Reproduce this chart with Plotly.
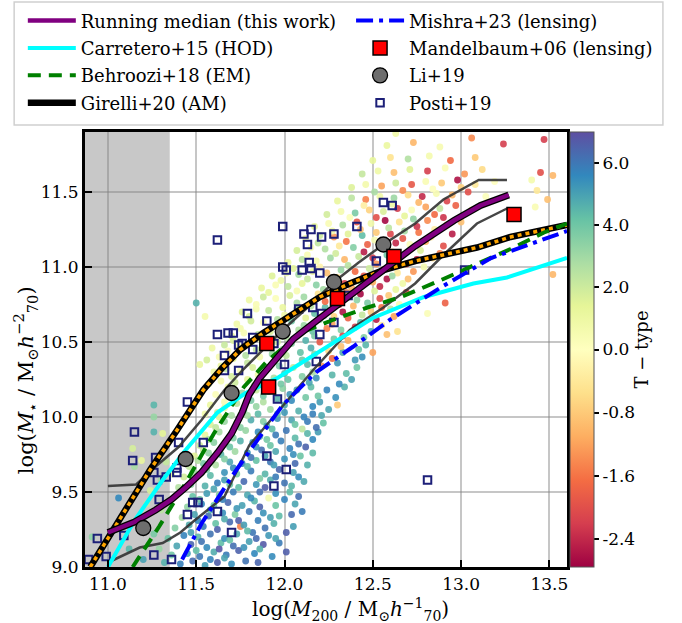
import plotly.graph_objects as go

FONT = "DejaVu Serif"

# ---------------- data ----------------
# galaxies: (log M200, log Mstar, T-type), grouped by stellar-mass range
gal_a = [(11.32,9.03,4.6),(11.41,9.02,5.8),(11.48,9.04,6.3),(11.55,9.01,5.1),(11.62,9.03,6.6),(11.70,9.02,5.4),(11.78,9.04,6.1),
         (11.36,9.08,3.9),(11.45,9.09,5.2),(11.52,9.07,6.0),(11.60,9.10,4.7),(11.67,9.08,5.9),(11.74,9.11,6.5),(11.83,9.09,5.6),
         (11.29,9.12,3.2),(11.39,9.14,4.9),(11.47,9.15,6.4),(11.56,9.13,5.5),(11.64,9.16,4.3),(11.71,9.14,6.2),(11.80,9.17,5.0),
         (11.88,9.15,6.7),(11.34,9.19,4.1),(11.43,9.21,5.7),(11.51,9.20,4.4),(11.58,9.22,6.1),(11.66,9.19,5.3),(11.75,9.27,-1.5),
         (11.73,9.22,4.8),(11.82,9.23,6.0),(11.91,9.21,5.2),(12.01,9.23,6.6),(11.38,9.26,3.6),(11.46,9.28,4.7),(11.54,9.27,5.9),
         (11.61,9.29,4.2),(11.69,9.30,6.3),(11.77,9.28,5.1),(11.85,9.31,5.8),(11.94,9.29,4.6),(11.42,9.33,2.8),(11.49,9.35,4.9),
         (11.57,9.34,6.2),(11.65,9.36,5.4),(11.72,9.35,3.7),(11.80,9.37,6.0),(11.88,9.36,5.3),(11.97,9.34,4.4),(11.45,9.40,3.3),
         (11.53,9.42,5.6),(11.60,9.41,4.0),(11.68,9.43,6.4),(11.76,9.41,5.0),(11.83,9.44,4.5),(11.91,9.46,0.6),(12.00,9.45,5.7),
         (12.06,9.42,4.9),(11.48,9.47,4.2),(11.56,9.49,5.1),(11.63,9.48,3.6),(11.71,9.50,5.9),(11.79,9.48,4.8),(11.86,9.50,6.2),
         (11.95,9.49,5.4),(12.03,9.50,4.3),(12.01,9.10,6.6),(12.10,9.37,5.9),
         (10.91,9.20,3.4),(11.06,9.46,5.6),(11.15,9.30,3.0),(11.22,9.42,2.2),(11.12,9.12,4.5),(11.20,9.05,5.0),(11.26,9.22,3.8),
         (11.30,9.38,2.5),(11.24,9.51,1.8)]
gal_b = [(11.40,9.53,2.6),(11.47,9.55,3.5),(11.55,9.54,4.6),(11.62,9.56,5.8),(11.69,9.55,4.1),(11.77,9.57,6.3),(11.84,9.55,5.2),
         (11.92,9.58,4.7),(12.00,9.56,6.1),(12.08,9.60,5.5),(11.43,9.60,1.9),(11.51,9.62,3.0),(11.58,9.61,4.4),(11.66,9.63,5.3),
         (11.73,9.62,3.8),(11.81,9.64,5.9),(11.89,9.62,4.5),(11.97,9.65,6.4),(12.05,9.63,5.0),(12.13,9.68,4.6),(11.46,9.67,2.3),
         (11.54,9.69,3.9),(11.61,9.68,2.7),(11.69,9.70,4.9),(11.76,9.69,5.6),(11.84,9.71,4.2),(11.92,9.70,6.0),(12.00,9.72,5.3),
         (12.09,9.74,4.1),(11.49,9.74,1.5),(11.57,9.76,3.3),(11.64,9.75,4.5),(11.72,9.77,3.0),(11.79,9.76,5.4),(11.87,9.78,6.2),
         (11.95,9.77,4.8),(12.03,9.79,5.7),(12.12,9.80,6.5),(11.52,9.81,2.0),(11.60,9.83,3.4),(11.67,9.82,2.4),(11.75,9.84,4.6),
         (11.82,9.83,5.1),(11.90,9.85,3.9),(11.98,9.84,5.8),(12.06,9.86,4.4),(12.16,9.85,5.6),(11.55,9.88,1.2),(11.63,9.90,2.9),
         (11.70,9.89,4.0),(11.78,9.91,3.2),(11.85,9.90,5.5),(11.93,9.92,4.3),(12.01,9.91,6.0),(12.10,9.92,2.4),(12.19,9.90,5.1),
         (11.58,9.95,1.7),(11.66,9.97,3.1),(11.73,9.96,2.2),(11.81,9.98,4.7),(11.88,9.97,3.6),(11.96,9.99,5.3),(12.04,9.98,4.9),
         (12.13,9.97,5.9),(12.22,9.96,4.2),
         (11.26,10.08,4.5),(11.26,10.00,3.2),(11.26,9.90,4.6),(11.31,9.89,1.4),(11.14,9.79,1.8),(11.19,9.71,1.2),(11.15,9.67,2.9),
         (11.33,9.70,2.2),(11.36,9.62,1.6),(11.30,9.58,3.0)]
gal_c = [(11.55,10.02,0.8),(11.62,10.03,1.9),(11.70,10.01,2.8),(11.77,10.04,3.5),(11.85,10.02,4.4),(11.92,10.05,3.0),(12.00,10.03,5.2),
         (12.08,10.04,4.6),(12.16,10.02,5.8),(12.25,10.05,4.9),(11.58,10.08,1.1),(11.66,10.10,0.4),(11.73,10.09,2.5),(11.81,10.11,3.8),
         (11.88,10.10,2.6),(11.96,10.12,4.5),(12.04,10.11,5.5),(12.12,10.13,3.9),(12.20,10.10,5.1),(12.30,10.08,-0.8),(11.61,10.15,0.2),
         (11.69,10.17,1.6),(11.76,10.16,3.1),(11.84,10.18,2.1),(11.91,10.17,4.0),(11.99,10.19,3.4),(12.07,10.18,5.0),(12.15,10.20,4.3),
         (12.24,10.18,5.7),(12.34,10.20,4.6),(11.57,10.22,1.4),(11.64,10.24,0.6),(11.72,10.23,2.0),(11.79,10.25,1.2),(11.87,10.24,3.3),
         (11.94,10.26,2.7),(12.02,10.25,4.1),(12.10,10.27,3.6),(12.18,10.26,5.3),(12.27,10.28,4.5),(12.38,10.25,5.0),(11.60,10.30,0.9),
         (11.67,10.32,2.3),(11.75,10.31,0.3),(11.82,10.33,1.7),(11.90,10.32,2.9),(11.97,10.34,3.7),(12.05,10.33,2.2),(12.13,10.35,4.4),
         (12.21,10.34,-1.3),(12.30,10.36,5.2),(12.41,10.33,4.0),(11.56,10.38,1.8),(11.63,10.40,0.5),(11.71,10.39,1.3),(11.78,10.41,2.6),
         (11.86,10.40,0.7),(11.93,10.42,3.2),(12.01,10.41,2.4),(12.09,10.43,4.2),(12.17,10.42,3.4),(12.25,10.44,-0.6),(12.33,10.43,4.8),
         (12.44,10.40,5.4),(11.59,10.46,1.0),(11.66,10.48,2.1),(11.74,10.47,0.4),(11.81,10.49,1.5),(11.89,10.48,2.8),(11.96,10.50,1.9),
         (12.04,10.49,3.5),(12.12,10.51,4.6),(12.20,10.50,-1.9),(12.28,10.52,3.9),(12.36,10.51,-1.1),(12.46,10.48,4.5),
         (11.50,10.76,4.6),(11.55,10.67,0.6),(11.52,10.35,1.2),(12.50,10.43,-1.2),(12.64,10.57,-0.5)]
gal_d = [(11.70,10.54,1.3),(11.77,10.56,0.5),(11.85,10.55,2.4),(11.92,10.57,1.6),(12.00,10.56,3.3),(12.08,10.58,2.7),(12.16,10.57,4.2),
         (12.24,10.59,-1.5),(12.32,10.58,3.6),(12.40,10.60,-2.2),(12.49,10.57,4.9),(12.58,10.55,-0.9),(11.73,10.62,0.8),(11.81,10.64,1.9),
         (11.88,10.63,0.3),(11.96,10.65,2.6),(12.04,10.64,4.0),(12.12,10.66,1.4),(12.20,10.65,3.1),(12.28,10.67,-0.7),(12.36,10.66,-1.8),
         (12.44,10.68,2.2),(12.52,10.65,-2.5),(12.62,10.67,-1.2),(11.76,10.70,1.5),(11.84,10.72,0.6),(11.91,10.71,2.2),(11.99,10.73,1.1),
         (12.07,10.72,3.4),(12.15,10.74,2.5),(12.23,10.73,4.4),(12.31,10.75,-2.4),(12.39,10.74,-1.0),(12.47,10.76,3.8),(12.55,10.73,-1.6),
         (12.65,10.75,0.4),(11.80,10.78,0.9),(11.88,10.80,2.0),(11.95,10.79,0.2),(12.03,10.81,1.7),(12.11,10.80,3.0),(12.19,10.82,-0.5),
         (12.27,10.81,4.1),(12.35,10.83,-1.4),(12.43,10.82,-2.7),(12.51,10.84,1.6),(12.59,10.81,-0.8),(12.69,10.83,-2.0),(11.87,10.86,1.2),
         (11.95,10.88,0.4),(12.02,10.87,2.3),(12.10,10.89,1.3),(12.18,10.88,3.5),(12.26,10.90,0.1),(12.34,10.89,-2.1),(12.42,10.91,4.3),
         (12.50,10.90,-1.1),(12.58,10.92,-2.6),(12.67,10.89,0.9),(11.93,10.94,1.6),(12.01,10.96,0.7),(12.08,10.95,2.9),(12.16,10.97,1.0),
         (12.24,10.96,-0.9),(12.32,10.98,3.2),(12.40,10.97,-1.7),(12.48,10.99,2.0),(12.56,10.98,-2.3),(12.64,10.96,-0.4),(12.73,10.97,-1.3),
         (12.91,10.76,-1.8),(12.81,10.69,0.3),(13.52,10.95,-1.0)]
gal_e = [(12.02,11.03,1.1),(12.10,11.05,2.4),(12.18,11.04,0.6),(12.26,11.06,3.0),(12.34,11.05,-1.0),(12.42,11.07,2.1),(12.50,11.06,-2.2),
         (12.58,11.08,4.0),(12.66,11.07,-1.5),(12.75,11.05,-2.6),(12.84,11.06,-0.6),(12.07,11.11,1.8),(12.15,11.13,0.3),(12.23,11.12,2.6),
         (12.31,11.14,-0.4),(12.39,11.13,3.6),(12.47,11.15,-1.8),(12.55,11.14,1.2),(12.63,11.16,-2.4),(12.71,11.15,0.2),(12.80,11.17,-1.1),
         (12.90,11.14,-2.0),(12.12,11.19,0.9),(12.20,11.21,2.0),(12.28,11.20,-1.3),(12.36,11.22,1.5),(12.44,11.21,4.3),(12.52,11.23,-0.8),
         (12.60,11.22,-2.1),(12.68,11.24,2.9),(12.76,11.23,-1.6),(12.85,11.25,-0.3),(12.95,11.22,-2.5),(12.17,11.27,1.4),(12.25,11.29,0.4),
         (12.33,11.28,2.7),(12.41,11.30,-1.9),(12.49,11.29,0.8),(12.57,11.31,-2.7),(12.65,11.30,-0.5),(12.73,11.32,3.3),(12.81,11.31,-1.4),
         (12.90,11.33,-2.3),(13.00,11.30,-0.9),(12.24,11.35,1.9),(12.32,11.37,0.6),(12.40,11.36,3.8),(12.48,11.38,-0.7),(12.56,11.37,1.7),
         (12.64,11.39,-2.2),(12.72,11.38,0.3),(12.80,11.40,-1.2),(12.88,11.39,2.2),(12.97,11.41,-1.8),(13.06,11.38,-0.2),(12.30,11.44,1.2),
         (12.38,11.46,2.4),(12.46,11.45,-1.5),(12.54,11.47,0.9),(12.62,11.46,3.1),(12.70,11.48,-0.6),(12.78,11.47,-2.4),(12.86,11.49,0.5),
         (12.95,11.48,-1.0),(13.04,11.50,-2.0),(13.14,11.47,0.2),(12.38,11.53,1.6),(12.46,11.55,0.7),(12.55,11.54,-1.2),(12.63,11.56,2.0),
         (12.72,11.55,-1.9),(12.80,11.57,0.4),(12.89,11.56,-0.8),(12.98,11.58,-2.6),(13.08,11.55,-0.4),(13.19,11.57,0.0),(12.44,11.62,2.2),
         (12.53,11.64,0.9),(12.62,11.63,-0.9),(12.71,11.65,1.5),(12.81,11.64,-2.2),(12.91,11.66,0.3),(13.02,11.62,-1.3),(13.12,11.65,-0.6),
         (12.50,11.71,1.3),(12.60,11.73,-0.5),(12.70,11.72,2.6),(12.82,11.74,0.6),(12.94,11.71,-1.7),(13.08,11.73,-0.8),(12.58,11.81,1.1),
         (12.73,11.83,-1.0),(12.88,11.80,0.5),(13.24,11.82,-2.2),(12.63,11.89,0.8),(13.06,11.86,-1.4),(13.47,11.85,-2.2),(13.45,11.63,-2.0),
         (13.52,11.61,-1.0),(13.40,11.58,0.6),(13.43,11.51,-0.4),(13.42,11.40,0.4),(13.49,11.45,-0.9)]
# extra galaxies filling the densest part of the relation
gal_f = [(11.58,9.05,5.7),(11.66,9.06,4.9),(11.85,9.03,6.4),(11.93,9.07,5.5),(11.50,9.11,4.3),(11.63,9.12,6.8),(11.77,9.13,5.3),
         (11.86,9.12,4.6),(11.97,9.16,5.9),(11.53,9.17,6.1),(11.69,9.18,4.2),(11.84,9.19,6.3),(11.95,9.19,4.9),(11.47,9.23,5.0),
         (11.62,9.25,6.5),(11.79,9.24,4.4),(11.89,9.26,6.1),(12.05,9.27,5.1),(11.51,9.31,5.6),(11.66,9.32,4.7),(11.74,9.31,6.6),
         (11.92,9.33,5.0),(12.04,9.35,6.3),(11.58,9.38,4.5),(11.73,9.39,5.2),(11.86,9.40,6.5),(11.95,9.41,4.1),(11.52,9.45,3.9),
         (11.65,9.45,5.8),(11.81,9.46,5.5),(12.08,9.47,6.2),(11.60,9.52,4.9),(11.74,9.53,4.3),(11.89,9.53,6.6),(12.04,9.54,4.5),
         (11.66,9.58,5.0),(11.86,9.59,3.7),(11.95,9.60,5.9),(12.11,9.57,4.8)]
gal_g = [(11.48,9.63,2.9),(11.56,9.65,3.7),(11.71,9.66,5.5),(11.79,9.67,4.4),(11.94,9.68,5.1),(12.06,9.69,6.3),(11.51,9.71,2.6),
         (11.66,9.72,3.6),(11.81,9.73,6.1),(11.89,9.74,4.9),(12.05,9.75,5.4),(12.16,9.76,4.4),(11.54,9.78,2.1),(11.69,9.80,4.1),
         (11.84,9.80,5.2),(11.92,9.81,4.1),(12.08,9.82,6.1),(11.57,9.85,2.7),(11.71,9.86,3.7),(11.86,9.87,4.4),(11.95,9.88,5.9),
         (12.13,9.89,4.5),(11.61,9.93,2.3),(11.75,9.93,3.5),(11.90,9.94,5.0),(12.06,9.95,4.1),(12.18,9.93,6.2),(11.63,10.00,1.4),
         (11.79,10.01,2.9),(11.96,10.02,4.2),(12.11,10.00,5.7),(12.21,10.01,4.8),(11.66,10.06,1.0),(11.84,10.07,3.2),(12.00,10.08,4.8),
         (12.16,10.07,5.6),(11.70,10.13,2.1),(11.88,10.14,3.8),(12.03,10.15,5.3),(12.19,10.14,4.0),(12.29,10.13,5.4)]
gal_h = [(11.68,10.20,0.9),(11.83,10.21,2.8),(11.98,10.22,3.9),(12.14,10.23,4.9),(12.31,10.22,5.5),(11.70,10.27,1.8),(11.85,10.28,0.8),
         (12.00,10.29,4.4),(12.16,10.30,2.9),(12.35,10.29,4.3),(11.64,10.34,1.2),(11.79,10.36,2.2),(11.94,10.37,1.4),(12.10,10.38,3.9),
         (12.27,10.39,-1.7),(12.40,10.38,5.2),(11.68,10.44,0.3),(11.84,10.45,2.3),(11.99,10.45,3.0),(12.15,10.46,4.7),(12.32,10.47,-0.9),
         (12.42,10.45,4.1),(11.71,10.51,1.7),(11.86,10.52,0.9),(12.01,10.53,2.6),(12.17,10.54,3.8),(12.33,10.54,-2.1),(12.45,10.53,3.6),
         (11.75,10.59,0.6),(11.96,10.60,2.0),(12.11,10.61,3.1),(12.27,10.62,-1.2),(12.43,10.63,4.5),(12.55,10.61,-0.4),(11.80,10.67,1.8),
         (12.00,10.68,0.8),(12.17,10.69,4.2),(12.33,10.70,-2.6),(12.49,10.70,-0.8),(12.60,10.72,2.5),(11.84,10.75,0.4),(12.07,10.76,2.8),
         (12.23,10.77,-1.7),(12.41,10.78,3.4),(12.54,10.79,-2.0)]
gal_i = [(11.91,10.83,1.3),(12.07,10.84,0.5),(12.22,10.85,2.9),(12.38,10.86,-1.1),(12.54,10.87,-2.4),(12.63,10.85,1.1),(11.98,10.91,0.9),
         (12.13,10.92,2.1),(12.30,10.93,-0.6),(12.45,10.94,-1.9),(12.61,10.94,3.1),(12.70,10.92,-0.9),(12.05,10.99,1.5),(12.20,11.00,-0.2),
         (12.36,11.01,2.5),(12.52,11.02,-1.3),(12.69,11.02,-2.2),(12.79,11.00,0.6),(12.13,11.08,0.4),(12.29,11.09,1.9),(12.45,11.10,-2.5),
         (12.61,11.10,-0.7),(12.77,11.11,1.7),(12.88,11.09,-1.5),(12.19,11.16,2.3),(12.35,11.17,-1.6),(12.51,11.18,0.5),(12.67,11.19,-1.9),
         (12.83,11.20,-0.4),(12.27,11.24,0.8),(12.43,11.25,-0.9),(12.59,11.26,2.4),(12.75,11.27,-2.3),(12.92,11.28,-1.0),(12.37,11.33,0.2),
         (12.52,11.33,-2.0),(12.68,11.34,1.3),(12.85,11.35,-1.7),(12.45,11.41,-0.3),(12.61,11.42,1.0),(12.76,11.43,-1.0),(12.92,11.44,-2.1),
         (12.51,11.50,2.8),(12.67,11.51,-1.4),(12.84,11.52,0.1),(13.00,11.53,-0.7)]

# running median and 16th/84th percentiles (this work)
median_x = [11.00,11.15,11.27,11.36,11.44,11.53,11.62,11.70,11.76,11.80,11.86,11.93,12.05,12.18,12.37,12.56,12.74,12.96,13.11,13.27]
median_y = [9.23,9.30,9.38,9.45,9.53,9.63,9.76,9.89,10.03,10.15,10.26,10.36,10.52,10.64,10.81,10.98,11.14,11.31,11.41,11.48]
p84_x = [11.00,11.16,11.27,11.40,11.53,11.66,11.76,11.99,12.14,12.28,12.42,12.56,12.74,12.90,13.10,13.26]
p84_y = [9.54,9.55,9.67,9.80,9.98,10.18,10.31,10.58,10.74,10.90,11.03,11.15,11.29,11.45,11.58,11.58]
p16_x = [11.00,11.18,11.31,11.41,11.49,11.66,11.80,11.99,12.16,12.37,12.56,12.74,12.90,13.09,13.26]
p16_y = [9.03,9.13,9.16,9.23,9.31,9.47,9.81,10.07,10.31,10.58,10.73,10.89,11.08,11.29,11.39]

carretero_x = [11.00,11.15,11.31,11.44,11.62,11.78,11.96,12.12,12.29,12.50,12.79,13.07,13.26,13.60]
carretero_y = [9.00,9.31,9.58,9.78,10.03,10.16,10.26,10.38,10.51,10.66,10.80,10.89,10.93,11.06]
behroozi_x = [11.14,11.29,11.45,11.60,11.77,11.90,12.09,12.28,12.47,12.66,12.90,13.09,13.28,13.47,13.60]
behroozi_y = [9.00,9.27,9.58,9.89,10.20,10.37,10.56,10.65,10.73,10.80,10.92,11.02,11.12,11.23,11.29]
girelli_x = [10.90,11.07,11.24,11.39,11.54,11.65,11.75,11.88,12.01,12.20,12.37,12.56,12.74,12.90,13.09,13.28,13.47,13.60]
girelli_y = [9.00,9.33,9.65,9.91,10.18,10.33,10.45,10.56,10.66,10.80,10.89,10.98,11.04,11.08,11.13,11.20,11.25,11.28]
mishra_x = [11.42,11.53,11.70,11.80,11.99,12.18,12.39,12.60,12.88,13.17,13.60]
mishra_y = [9.05,9.29,9.60,9.77,10.08,10.30,10.47,10.65,10.86,11.06,11.24]

mandelbaum_x = [11.91,11.90,12.30,12.62,13.30]
mandelbaum_y = [10.20,10.49,10.79,11.07,11.35]
li_x = [11.20,11.44,11.70,11.99,12.28,12.56]
li_y = [9.26,9.72,10.16,10.57,10.90,11.15]
posti_x = [11.62,11.62,11.68,11.71,11.66,11.79,11.74,11.76,11.99,12.11,12.15,12.21,12.28,12.13,11.99,12.01,12.10,12.14,
           12.15,12.20,11.90,12.08,12.16,12.21,11.82,11.82,11.74,11.66,12.00,11.94,12.20,12.28,12.41,12.56,12.61,12.52,
           12.36,12.18,13.02,11.45,11.15,11.14,11.27,11.40,11.54,11.26,11.28,11.33,11.39,11.39,11.29,11.48,11.51,11.45,
           11.62,11.09,10.94,10.99,10.89,11.26,11.36,11.70,11.96,11.90,12.01,11.94,12.81]
posti_y = [11.18,10.55,10.56,10.56,10.41,10.69,10.48,10.49,11.27,11.22,11.25,11.20,11.22,11.15,11.00,10.98,10.98,11.03,
           10.99,10.96,10.64,10.72,10.73,10.69,10.53,10.45,10.31,10.31,10.35,10.49,10.55,10.63,11.27,11.43,11.41,11.04,
           10.81,10.37,10.98,10.10,9.90,9.71,9.73,9.83,9.83,9.63,9.58,9.60,9.66,9.63,9.45,9.43,9.43,9.35,
           9.37,9.21,9.19,9.07,9.05,9.08,9.05,9.23,10.12,9.74,9.65,9.54,9.58]

cbar_ticks = [6.0, 4.0, 2.0, 0.0, -0.8, -1.6, -2.4]
cbar_labels = ["6.0", "4.0", "2.0", "0.0", "-0.8", "-1.6", "-2.4"]
x_ticks = [11.0, 11.5, 12.0, 12.5, 13.0, 13.5]
y_ticks = [9.0, 9.5, 10.0, 10.5, 11.0, 11.5]
x_title = "log(<i>M</i><sub>200</sub> / M<sub>⊙</sub><i>h</i><sup>−1</sup><sub>70</sub>)"
y_title = "log(<i>M</i><sub>⋆</sub> / M<sub>⊙</sub><i>h</i><sup>−2</sup><sub>70</sub>)"
T_MIN, T_MAX = -2.76, 7.0

SPECTRAL = [[0.0, 'rgb(158,1,66)'], [0.1, 'rgb(213,62,79)'], [0.2, 'rgb(244,109,67)'], [0.3, 'rgb(253,174,97)'],
            [0.4, 'rgb(254,224,139)'], [0.5, 'rgb(255,255,191)'], [0.6, 'rgb(230,245,152)'], [0.7, 'rgb(171,221,164)'],
            [0.8, 'rgb(102,194,165)'], [0.9, 'rgb(50,136,189)'], [1.0, 'rgb(94,79,162)']]


def tnorm(t):
    # two-slope normalisation centred on T = 0
    if t >= 0:
        return 0.5 + 0.5 * t / T_MAX
    return 0.5 + 0.5 * t / (-T_MIN)


gals = gal_a + gal_b + gal_c + gal_d + gal_e + gal_f + gal_g + gal_h + gal_i
gx = [g[0] for g in gals]
gy = [g[1] for g in gals]
gc = [tnorm(g[2]) for g in gals]

fig = go.Figure()

fig.add_trace(go.Scatter(
    x=gx, y=gy, mode="markers", showlegend=False, hoverinfo="skip",
    marker=dict(size=6.8, color=gc, colorscale=SPECTRAL, cmin=0, cmax=1, opacity=0.9,
                line=dict(width=0),
                colorbar=dict(thickness=24, len=1, lenmode="fraction", y=0.5, yanchor="middle",
                              x=1.006, xanchor="left", xpad=0, ypad=0,
                              outlinewidth=1, outlinecolor="#555",
                              tickvals=[tnorm(v) for v in cbar_ticks], ticktext=cbar_labels,
                              ticks="outside", ticklen=5, tickwidth=1.5, tickcolor="black",
                              tickfont=dict(family=FONT, size=17, color="black"),
                              title=dict(text="T − type", side="right",
                                         font=dict(family=FONT, size=18, color="black")))),
))

fig.add_trace(go.Scatter(x=posti_x, y=posti_y, mode="markers", name="Posti+19", legend="legend2",
                         legendrank=4, legendgroup="g8",
                         marker=dict(symbol="square-open", size=7.5, color="#1c1f78",
                                     line=dict(width=2, color="#1c1f78"))))

for px_, py_ in ((p84_x, p84_y), (p16_x, p16_y)):
    fig.add_trace(go.Scatter(x=px_, y=py_, mode="lines", showlegend=False,
                             line=dict(color="#333333", width=2.5), opacity=0.9))

fig.add_trace(go.Scatter(x=girelli_x, y=girelli_y, mode="lines", name="Girelli+20 (AM)", legendrank=4,
                         legendgroup="g4", line=dict(color="black", width=6.5)))
fig.add_trace(go.Scatter(x=girelli_x, y=girelli_y, mode="lines", showlegend=False,
                         line=dict(color="#ffa500", width=3.5, dash="4px,4px")))
fig.add_trace(go.Scatter(x=behroozi_x, y=behroozi_y, mode="lines", name="Behroozi+18 (EM)", legendrank=3,
                         legendgroup="g3", line=dict(color="green", width=4, dash="13px,8px")))
fig.add_trace(go.Scatter(x=carretero_x, y=carretero_y, mode="lines", name="Carretero+15 (HOD)", legendrank=2,
                         legendgroup="g2", line=dict(color="cyan", width=4)))
fig.add_trace(go.Scatter(x=mishra_x, y=mishra_y, mode="lines", name="Mishra+23 (lensing)", legend="legend2",
                         legendrank=1, legendgroup="g5", line=dict(color="blue", width=4, dash="17px,6px,4px,6px")))
fig.add_trace(go.Scatter(x=median_x, y=median_y, mode="lines", showlegend=False,
                         line=dict(color="black", width=7)))
fig.add_trace(go.Scatter(x=median_x, y=median_y, mode="lines", name="Running median (this work)", legendrank=1,
                         legendgroup="g1", line=dict(color="#800080", width=4.5)))
fig.add_trace(go.Scatter(x=li_x, y=li_y, mode="markers", name="Li+19", legend="legend2", legendrank=3,
                         legendgroup="g7",
                         marker=dict(symbol="circle", size=15, color="#6e6e6e", line=dict(width=1.3, color="black"))))
fig.add_trace(go.Scatter(x=mandelbaum_x, y=mandelbaum_y, mode="markers", name="Mandelbaum+06 (lensing)",
                         legend="legend2", legendrank=2, legendgroup="g6",
                         marker=dict(symbol="square", size=14, color="red", line=dict(width=1.5, color="black"))))

# shaded (incomplete) halo-mass region
fig.add_shape(type="rect", xref="x", yref="paper", x0=10.87, x1=11.35, y0=0, y1=1,
              fillcolor="#c8c8c8", line=dict(width=0), layer="below")
# legend frame
fig.add_shape(type="rect", xref="paper", yref="paper", x0=-0.147, x1=1.199, y0=1.016, y1=1.299,
              fillcolor="white", line=dict(color="#d0d0d0", width=1.5), layer="below")

# axis titles
fig.add_annotation(text=x_title, xref="paper", yref="paper", x=0.55, y=-0.097, showarrow=False,
                   xanchor="center", yanchor="middle", font=dict(family=FONT, size=20, color="black"))
fig.add_annotation(text=y_title, xref="paper", yref="paper", x=-0.124, y=0.43, showarrow=False,
                   textangle=-90, xanchor="center", yanchor="middle", font=dict(family=FONT, size=21, color="black"))

axis_common = dict(showline=True, linewidth=3, linecolor="black", mirror=True,
                   ticks="inside", ticklen=7, tickwidth=2, tickcolor="black",
                   showgrid=True, gridcolor="rgba(128,128,128,0.45)", gridwidth=1.5, zeroline=False,
                   tickfont=dict(family=FONT, size=17, color="black"))

fig.update_layout(
    width=682, height=623, autosize=False,
    margin=dict(l=85, r=115, t=132, b=56, autoexpand=False),
    paper_bgcolor="white", plot_bgcolor="white",
    font=dict(family=FONT, color="black"),
    xaxis=dict(range=[10.87, 13.6], tickvals=x_ticks, ticktext=[f"{v:.1f}" for v in x_ticks], **axis_common),
    yaxis=dict(range=[9.0, 11.9], tickvals=y_ticks, ticktext=[f"{v:.1f}" for v in y_ticks], **axis_common),
    legend=dict(x=-0.129, y=1.298, xanchor="left", yanchor="top", bgcolor="rgba(0,0,0,0)",
                font=dict(family=FONT, size=18, color="black"), itemwidth=48, tracegroupgap=1,
                traceorder="grouped"),
    legend2=dict(x=0.552, y=1.298, xanchor="left", yanchor="top", bgcolor="rgba(0,0,0,0)",
                 font=dict(family=FONT, size=18, color="black"), itemwidth=48, tracegroupgap=1,
                 traceorder="grouped"),
)

fig.write_html("out.html")
